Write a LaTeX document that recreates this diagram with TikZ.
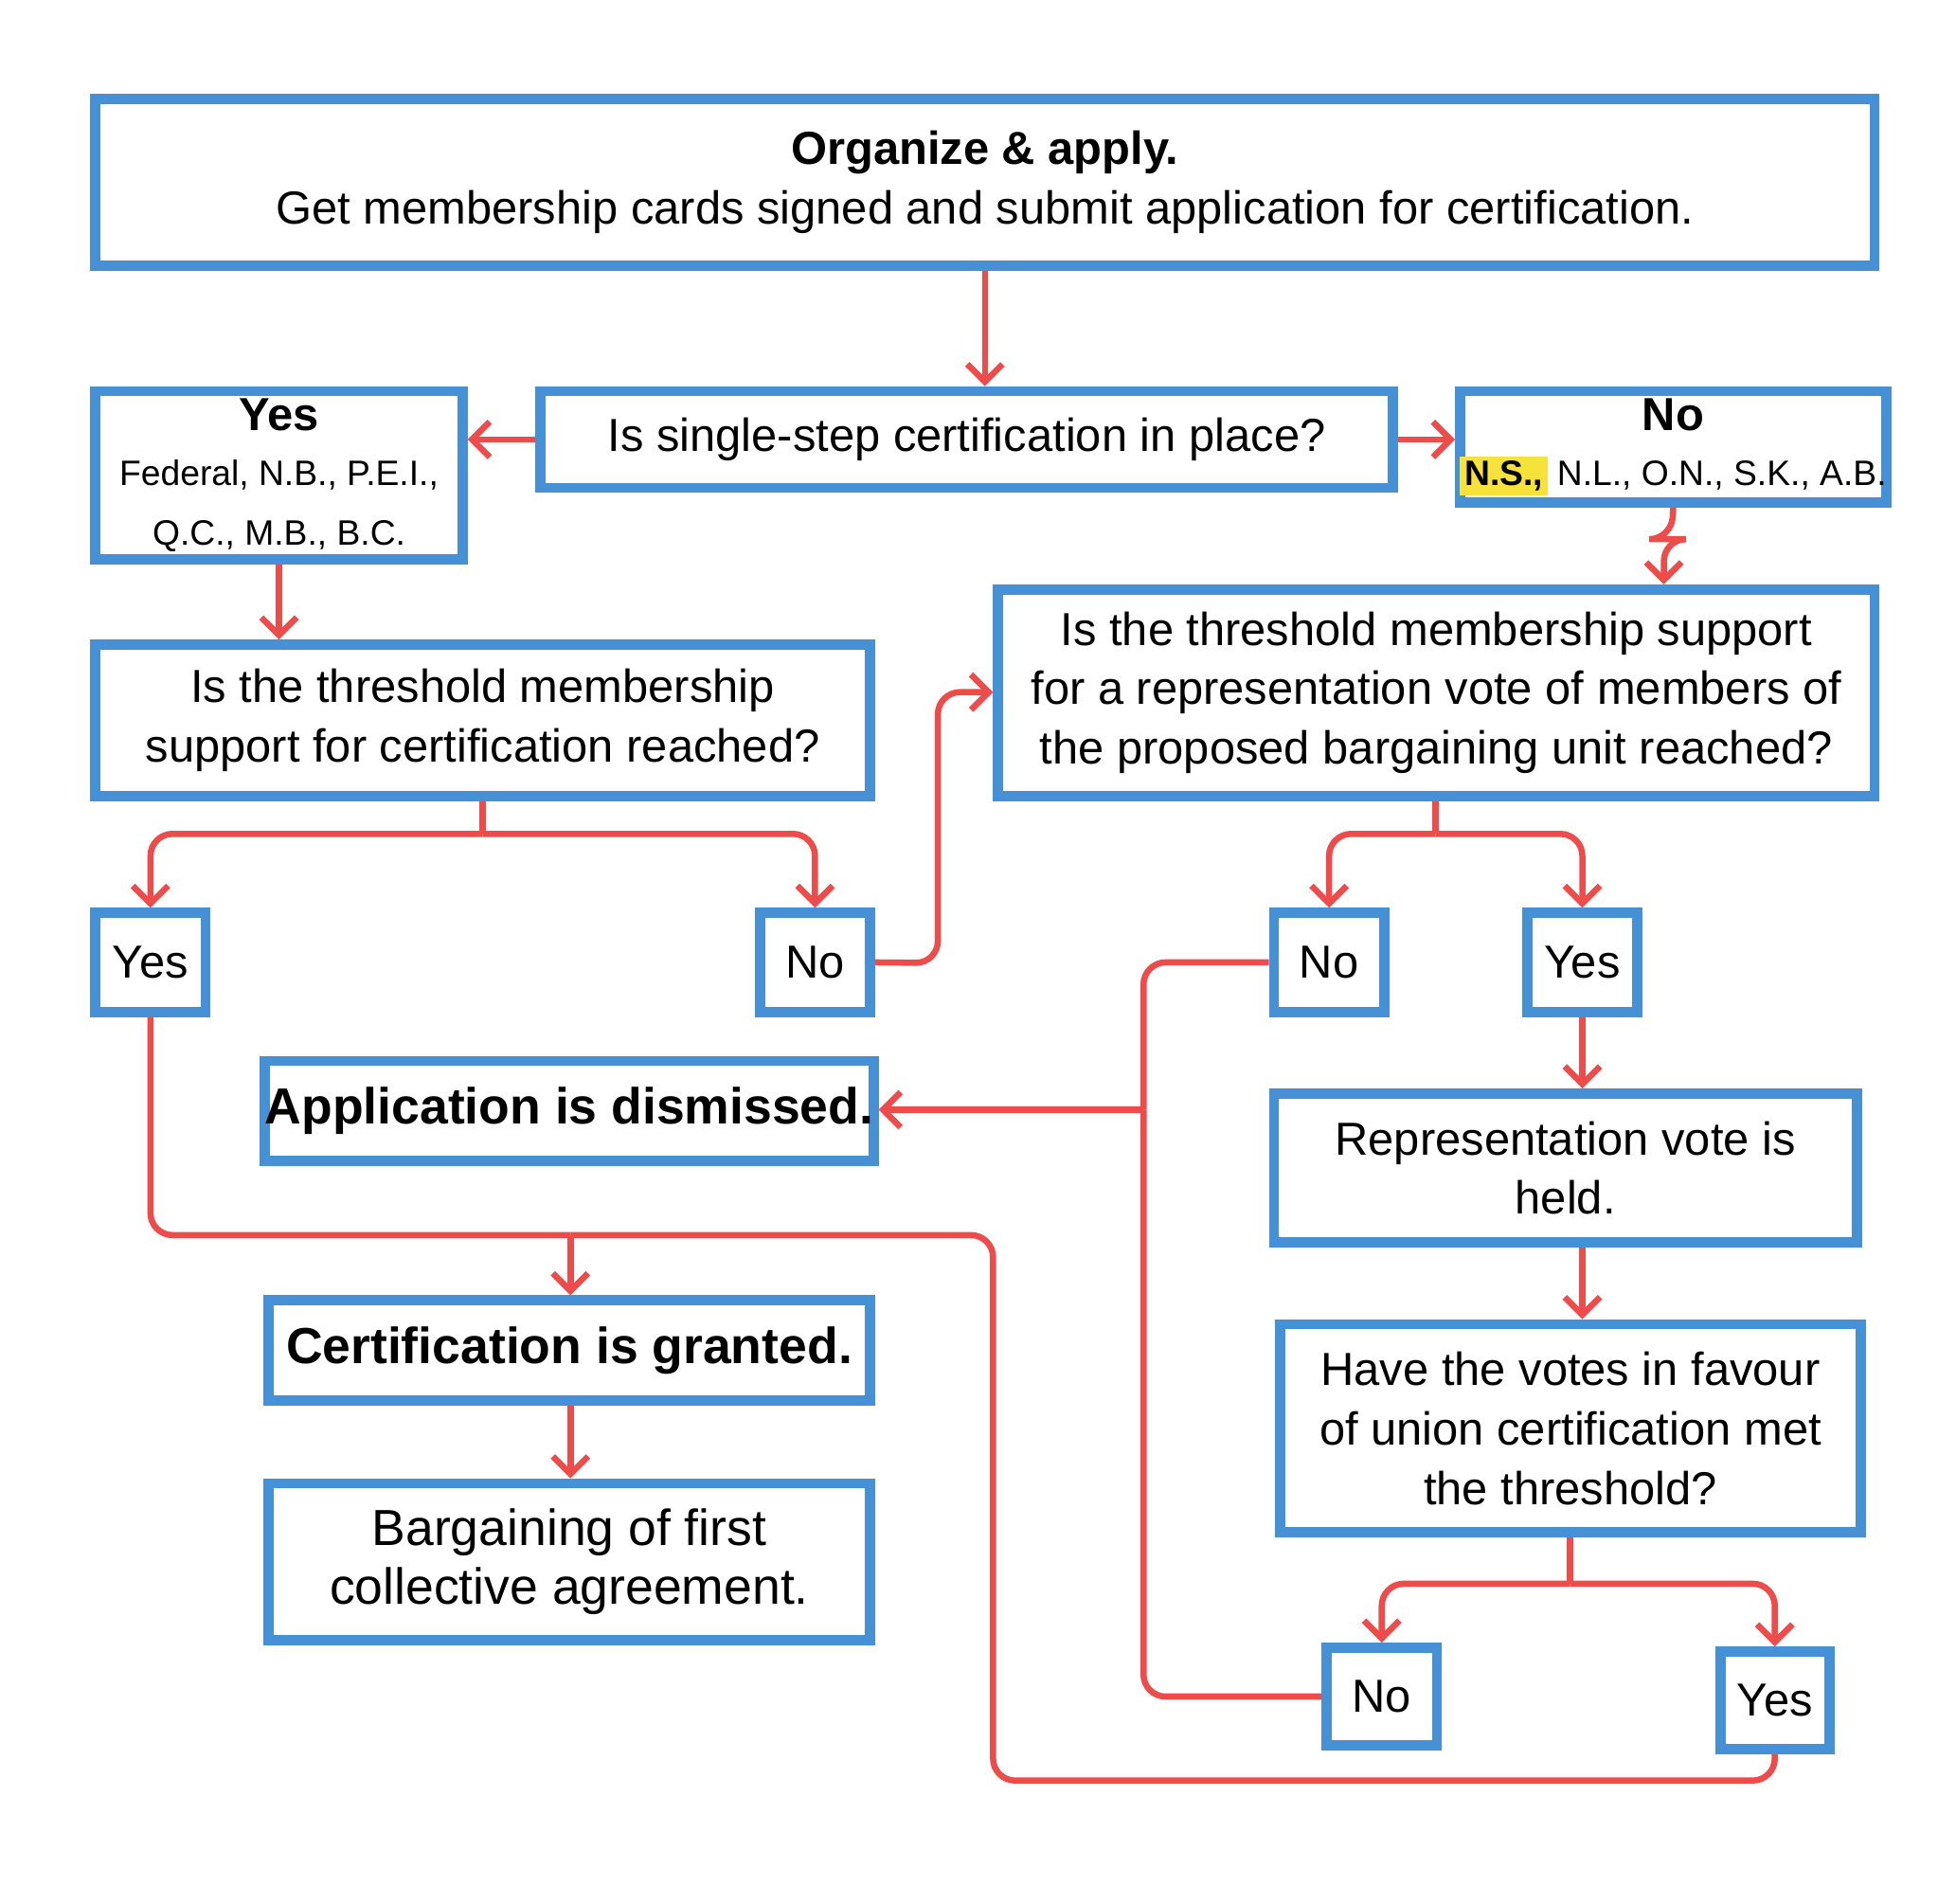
\documentclass[tikz,border=0pt]{standalone}
\usepackage{fontspec}
\setmainfont{Liberation Sans}
\usetikzlibrary{arrows.meta}
\definecolor{bbox}{HTML}{4690D6}
\definecolor{rline}{HTML}{EE4B4B}
\definecolor{hl}{HTML}{F7E13B}
\newcommand\smallf{\fontsize{8pt}{10.5pt}\selectfont}
\newcommand\bigf{\fontsize{11.5pt}{14pt}\selectfont}
\begin{document}
\begin{tikzpicture}[x=0.01cm,y=-0.01cm,
  bx/.style={draw=bbox,line width=2.3pt,align=center,inner sep=0pt,font=\fontsize{10.5pt}{13.5pt}\selectfont},
  con/.style={draw=rline,line width=1.4pt,rounded corners=5pt},
  arr/.style={con,-{Straight Barb[length=4pt,width=8pt,line width=1.4pt]}}]
\useasboundingbox[fill=white] (0,0) rectangle (1560,1518);
\newcommand\bxat[6]{\node[bx,minimum width={(#4-#2)*0.01cm-2.3pt},minimum height={(#5-#3)*0.01cm-2.3pt}] (#1) at ({(#2+#4)/2},{(#3+#5)/2}) {#6};}
\bxat{top}{72}{75}{1499}{216}{\textbf{Organize \& apply.}\\Get membership cards signed and submit application for certification.}
\bxat{q1}{427}{308}{1115}{393}{Is single-step certification in place?}
\bxat{yesa}{72}{308}{373}{450}{\textbf{Yes}\\[-1pt]\smallf Federal, N.B., P.E.I.,\\\smallf Q.C., M.B., B.C.}
\bxat{noa}{1170}{308}{1499}{405}{\textbf{No}\\[-1pt]\smallf\setlength\fboxsep{1pt}\colorbox{hl}{\textbf{N.S.,}} N.L., O.N., S.K., A.B.}
\bxat{q2}{72}{510}{698}{639}{Is the threshold membership\\support for certification reached?}
\bxat{q3}{792}{466}{1499}{639}{Is the threshold membership support\\for a representation vote of members of\\the proposed bargaining unit reached?}
\bxat{yes1}{72}{724}{168}{811}{Yes}
\bxat{no1}{602}{724}{698}{811}{No}
\bxat{no2}{1012}{724}{1108}{811}{No}
\bxat{yes2}{1214}{724}{1310}{811}{Yes}
\bxat{dis}{210}{842}{698}{930}{\bigf\bfseries Application is dismissed.}
\bxat{vote}{1012}{868}{1485}{995}{Representation vote is\\held.}
\bxat{have}{1017}{1052}{1488}{1226}{Have the votes in favour\\of union certification met\\the threshold?}
\bxat{no3}{1054}{1310}{1150}{1396}{No}
\bxat{yes3}{1368}{1313}{1463}{1399}{Yes}
\bxat{gra}{210}{1033}{698}{1121}{\bigf\bfseries Certification is granted.}
\bxat{barg}{210}{1179}{698}{1312}{\bigf Bargaining of first\\\bigf collective agreement.}
\coordinate (j1) at (385,665);
\coordinate (j2) at (1145,665);
\coordinate (j3) at (1252,1263);
\coordinate (j4) at (912,885);
\coordinate (j5) at (455,985);
\draw[arr] (top.south) -- (q1.north -| top.south);
\draw[arr] (q1.west) -- (yesa.east |- q1.west);
\draw[arr] (q1.east) -- (noa.west |- q1.east);
\draw[arr] (noa.south) -- (1333,430) -- (1327,430) -- (1327,466);
\draw[arr] (yesa.south) -- (q2.north -| yesa.south);
\draw[con] (q2.south -| j1) -- (j1);
\draw[arr] (j1) -| (yes1.north);
\draw[arr] (j1) -| (no1.north);
\draw[arr] (no1.east) -- (748,768) |- (q3.west |- 0,552);
\draw[con] (q3.south -| j2) -- (j2);
\draw[arr] (j2) -| (no2.north);
\draw[arr] (j2) -| (yes2.north);
\draw[arr] (yes2.south) -- (vote.north -| yes2.south);
\draw[arr] (vote.south -| yes2.south) -- (have.north -| yes2.south);
\draw[con] (have.south -| j3) -- (j3);
\draw[arr] (j3) -| (no3.north);
\draw[arr] (j3) -| (yes3.north);
\draw[con] (no2.west) -| (j4);
\draw[con] (no3.west) -| (j4);
\draw[arr] (j4) -- (dis.east |- j4);
\draw[con] (yes1.south) |- (j5);
\draw[con] (yes3.south) |- (792,1420) |- (j5);
\draw[arr] (j5) -- (gra.north -| j5);
\draw[arr] (gra.south -| j5) -- (barg.north -| j5);
\end{tikzpicture}
\end{document}
